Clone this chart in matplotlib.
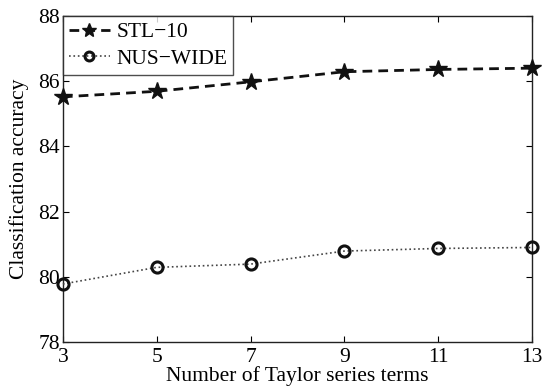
import matplotlib
matplotlib.use("Agg")
import matplotlib.pyplot as plt

terms = [3, 5, 7, 9, 11, 13]
stl10 = [85.52, 85.69, 85.98, 86.29, 86.36, 86.40]
nuswide = [79.78, 80.29, 80.39, 80.79, 80.87, 80.90]
xticks = [3, 5, 7, 9, 11, 13]
yticks = [78, 80, 82, 84, 86, 88]

plt.rcParams['font.family'] = ['Liberation Serif', 'DejaVu Serif']

fig = plt.figure(figsize=(5.42, 3.90), dpi=100)
ax = fig.add_axes([0.116, 0.123, 0.8655, 0.836])

ax.plot(terms, stl10, linestyle=(0, (3.5, 2.2)), color='#111111', linewidth=2.0,
        marker='*', markersize=13, markerfacecolor='#111111', markeredgecolor='#111111',
        label='STL\u221210', clip_on=False, zorder=3)
ax.plot(terms, nuswide, linestyle=':', color='#444444', linewidth=1.2,
        marker='o', markersize=8, markerfacecolor='none', markeredgecolor='#111111',
        markeredgewidth=2.2, label='NUS\u2212WIDE', clip_on=False, zorder=3)

ax.set_xlim(3, 13)
ax.set_ylim(78, 88)
ax.set_xticks(xticks)
ax.set_yticks(yticks)
ax.tick_params(direction='in', top=True, right=True, labelsize=15.5, length=4, width=0.8)
ax.tick_params(axis='x', pad=4)
ax.tick_params(axis='y', pad=2)
for s in ax.spines.values():
    s.set_linewidth(1.0)
    s.set_color('#222222')

ax.set_xlabel('Number of Taylor series terms', fontsize=15.5, labelpad=0)
ax.set_ylabel('Classification accuracy', fontsize=15.5, labelpad=7)

leg = ax.legend(loc='upper left', fontsize=15.5, frameon=True, fancybox=False,
                borderaxespad=0, handlelength=1.9, handletextpad=0.3,
                borderpad=0.28, labelspacing=0.3, markerscale=0.8)
leg.get_frame().set_edgecolor('#222222')
leg.get_frame().set_linewidth(1.0)

fig.savefig('out.png', dpi=100)
